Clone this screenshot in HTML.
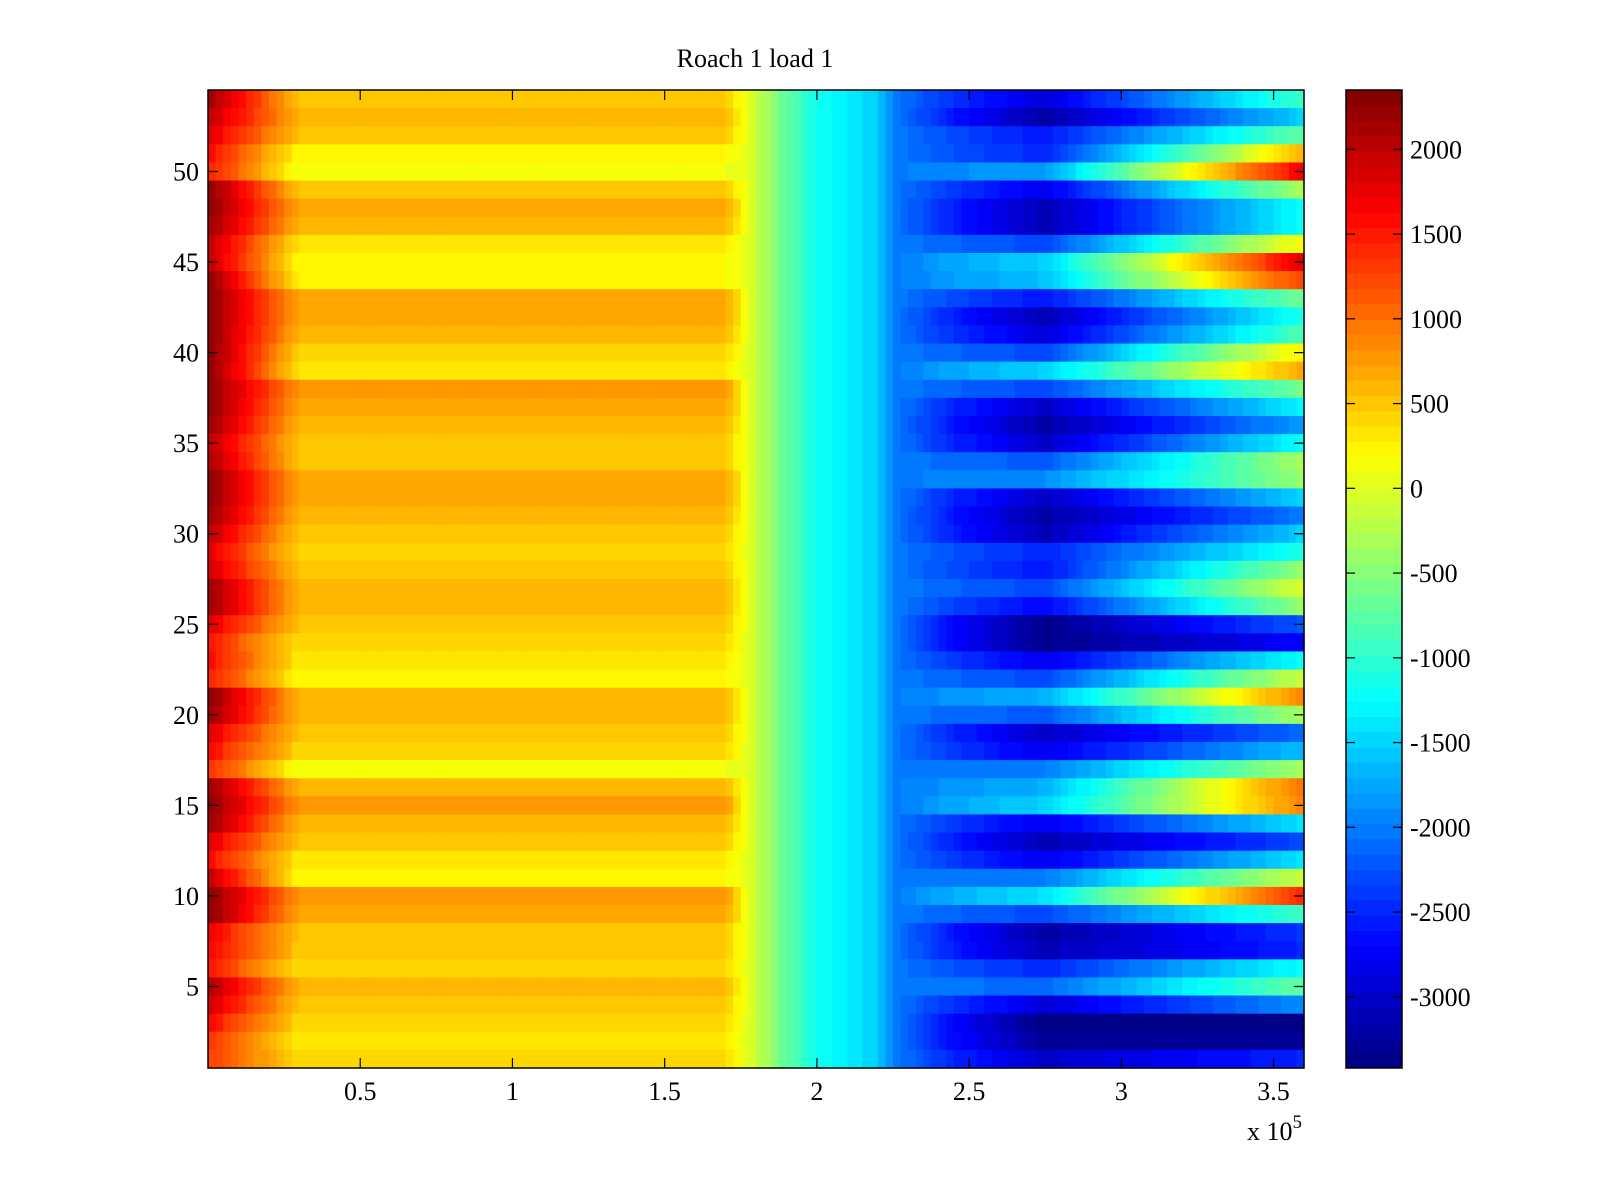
<!DOCTYPE html>
<html><head><meta charset="utf-8"><title>Roach 1 load 1</title>
<style>
html,body{margin:0;padding:0;background:#fff;}
svg{display:block;font-family:"Liberation Serif",serif;}
</style></head>
<body>
<svg id="chart" width="1600" height="1200" viewBox="0 0 1600 1200" xmlns="http://www.w3.org/2000/svg">
<rect width="1600" height="1200" fill="#fff"/>
<text x="755" y="67" font-size="26" text-anchor="middle">Roach 1 load 1</text>
<g id="cells"></g>
<rect x="208" y="90" width="1096" height="978" fill="none" stroke="#000" stroke-width="1.5"/>
<g id="axes"></g>
<g id="cbar"></g>
<text x="1247" y="1140" font-size="26">x 10<tspan dy="-12" font-size="19">5</tspan></text>
</svg>
<script>
// rows 54 (top) down to 1 (bottom)
const rowsTopDown = [54,53,52,51,50,49,48,47,46,45,44,43,42,41,40,39,38,37,36,35,34,33,32,31,30,29,28,27,26,25,24,23,22,21,20,19,18,17,16,15,14,13,12,11,10,9,8,7,6,5,4,3,2,1];
const leftEdge = [2200,2000,1800,1600,1500,2300,2300,2200,2000,2000,2300,2300,2300,2300,2300,2300,2300,2300,2200,2000,2100,2300,2300,2200,2000,1800,1900,2200,2200,1800,1500,1600,1500,2300,2200,1800,1600,1400,2200,2300,2200,1800,1600,2000,2300,2300,1700,1600,1500,2100,1900,1600,1400,1300];
const plateau = [500,600,500,200,100,500,700,600,300,200,200,700,700,600,400,300,800,700,600,500,500,700,700,600,500,400,500,600,600,500,400,300,200,600,600,500,400,100,600,800,600,500,300,200,800,700,500,500,400,600,500,400,300,400];
const trough = [-2900,-3200,-2600,-2500,-1800,-2800,-3100,-3100,-2300,-1500,-1600,-2600,-3100,-2900,-2300,-1500,-2300,-3000,-3200,-3000,-2200,-1900,-3000,-3200,-3100,-2500,-2600,-2300,-2700,-3350,-3350,-2800,-2300,-1700,-2200,-3000,-2800,-2000,-1700,-1500,-2800,-3100,-2800,-2000,-1400,-2300,-3200,-3100,-2500,-2100,-2900,-3400,-3300,-3000];
const rightEnd = [-900,-1500,-700,600,1700,-300,-1200,-1200,200,1800,1300,-600,-1100,-800,300,700,-600,-1300,-1800,-1200,-300,-400,-1500,-2000,-1500,-1100,-400,0,-400,-2200,-2700,-1200,-100,900,-300,-2100,-1600,-300,1000,900,-1400,-2300,-1400,-100,1400,-900,-2400,-2500,-1200,-700,-1900,-3400,-3300,-2500];
// shared transition (x in 1e5 units) and values
const transX = [1.78,1.9,2.0,2.2,2.25];
const transV = [0,-700,-1200,-1500,-2000];
const xTicks = [0.5,1,1.5,2,2.5,3,3.5];
const yTicks = [5,10,15,20,25,30,35,40,45,50];
const cTicks = [2000,1500,1000,500,0,-500,-1000,-1500,-2000,-2500,-3000];

const X0=208,X1=1304,Y0=90,Y1=1068,XMAX=3.6,CB0=1346,CB1=1402;
const CMIN=-3420,CMAX=2350;
const xs = v => X0 + v/XMAX*(X1-X0);
const ys = r => Y1 - (r-0.5)/54*(Y1-Y0);
const cs = v => Y1 - (v-CMIN)/(CMAX-CMIN)*(Y1-Y0);
function jet(v){
  let t=(v-CMIN)/(CMAX-CMIN); t=Math.max(0,Math.min(1,t));
  t=(Math.min(63,Math.floor(t*64))+0.5)/64;
  const c=x=>Math.round(255*Math.max(0,Math.min(1,x)));
  return `rgb(${c(1.5-Math.abs(4*t-3))},${c(1.5-Math.abs(4*t-2))},${c(1.5-Math.abs(4*t-1))})`;
}
function interp(kx,kv,x){
  if(x<=kx[0])return kv[0];
  for(let i=1;i<kx.length;i++){ if(x<=kx[i]){const f=(x-kx[i-1])/(kx[i]-kx[i-1]);return kv[i-1]+f*(kv[i]-kv[i-1]);} }
  return kv[kv.length-1];
}
const NS="http://www.w3.org/2000/svg";
const cells=document.getElementById('cells');
const NC=144;
rowsTopDown.forEach((r,i)=>{
  const kx=[0,0.3,1.7].concat(transX,[2.45,2.75,3.6]);
  const kv=[leftEdge[i],plateau[i],plateau[i]].concat(transV,[(transV[transV.length-1]+trough[i])/2,trough[i],rightEnd[i]]);
  const yT=ys(r+0.5), yB=ys(r-0.5);
  for(let c=0;c<NC;c++){
    const xa=c*XMAX/NC, xb=(c+1)*XMAX/NC;
    const v=interp(kx,kv,(xa+xb)/2);
    const el=document.createElementNS(NS,'rect');
    el.setAttribute('x',xs(xa).toFixed(2));
    el.setAttribute('y',yT.toFixed(2));
    el.setAttribute('width',(xs(xb)-xs(xa)+0.6).toFixed(2));
    el.setAttribute('height',(yB-yT+0.6).toFixed(2));
    el.setAttribute('fill',jet(v));
    
    
    cells.appendChild(el);
  }
});
const axes=document.getElementById('axes');
function line(p,x1,y1,x2,y2,name){
  const l=document.createElementNS(NS,'line');
  l.setAttribute('x1',x1);l.setAttribute('y1',y1);l.setAttribute('x2',x2);l.setAttribute('y2',y2);
  l.setAttribute('stroke','#000');l.setAttribute('stroke-width','1.2');
  
  
  p.appendChild(l);
}
function text(p,x,y,s,anchor,name){
  const t=document.createElementNS(NS,'text');
  t.setAttribute('x',x);t.setAttribute('y',y);t.setAttribute('font-size','26');t.setAttribute('text-anchor',anchor);
  t.textContent=s;
  
  
  p.appendChild(t);
}
xTicks.forEach(v=>{
  const x=xs(v);
  line(axes,x,Y1,x,Y1-10,'x-tick');
  line(axes,x,Y0,x,Y0+10,'x-tick-top');
  text(axes,x,1100,String(v),'middle','x-tick-label');
});
yTicks.forEach(v=>{
  const y=ys(v);
  line(axes,X0,y,X0+10,y,'y-tick');
  line(axes,X1,y,X1-10,y,'y-tick-right');
  text(axes,199,y+9,String(v),'end','y-tick-label');
});
const cbar=document.getElementById('cbar');
for(let k=0;k<64;k++){
  const va=CMIN+k*(CMAX-CMIN)/64, vb=CMIN+(k+1)*(CMAX-CMIN)/64;
  const el=document.createElementNS(NS,'rect');
  el.setAttribute('x',CB0);el.setAttribute('y',cs(vb).toFixed(2));
  el.setAttribute('width',CB1-CB0);el.setAttribute('height',(cs(va)-cs(vb)+0.5).toFixed(2));
  el.setAttribute('fill',jet((va+vb)/2));
  
  
  cbar.appendChild(el);
}
const fr=document.createElementNS(NS,'rect');
fr.setAttribute('x',CB0);fr.setAttribute('y',Y0);fr.setAttribute('width',CB1-CB0);fr.setAttribute('height',Y1-Y0);
fr.setAttribute('fill','none');fr.setAttribute('stroke','#000');fr.setAttribute('stroke-width','1.5');


cbar.appendChild(fr);
cTicks.forEach(v=>{
  const y=cs(v);
  line(cbar,CB0,y,CB0+9,y,'colorbar-tick');
  line(cbar,CB1,y,CB1-9,y,'colorbar-tick-right');
  text(cbar,1410,y+9,String(v),'start','colorbar-tick-label');
});
</script>
</body></html>
